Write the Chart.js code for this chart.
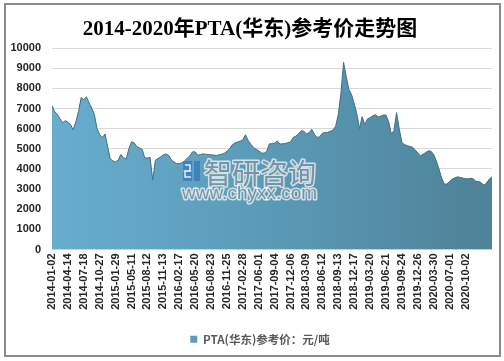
<!DOCTYPE html>
<html>
<head>
<meta charset="utf-8">
<script src="https://cdn.jsdelivr.net/npm/chart.js@4.4.1/dist/chart.umd.min.js"></script>
<style>
  html, body { margin: 0; padding: 0; background: #ffffff; }
  #wrap { position: relative; width: 504px; height: 361px; }
</style>
</head>
<body>
<div id="wrap"><canvas id="c" width="504" height="361"></canvas></div>
<script>
// ---- data ----
const chartTitle = '2014-2020年PTA(华东)参考价走势图';
const seriesName = 'PTA(华东)参考价：元/吨';
const tickLabels = ['2014-01-02','2014-04-14','2014-07-18','2014-10-27','2015-01-29','2015-05-11','2015-08-12','2015-11-13','2016-02-17','2016-05-20','2016-08-23','2016-11-25','2017-02-28','2017-06-01','2017-09-04','2017-12-06','2018-03-09','2018-06-12','2018-09-13','2018-12-17','2019-03-20','2019-06-21','2019-09-24','2019-12-26','2020-03-30','2020-07-01','2020-10-02'];
const pointsPerTick = 6;
const priceValues = [
  7150,6850,6720,6500,6300,6400,6320,6200,5950,6350,6850,7550,7450,7580,7280,7020,6700,6000,5700,5560,
  5740,5100,4500,4400,4350,4450,4720,4550,4500,5000,5350,5300,5100,5050,4980,4550,4540,4580,3450,4430,
  4520,4600,4700,4750,4680,4450,4350,4270,4260,4310,4400,4530,4660,4850,4850,4680,4720,4750,4730,4720,
  4700,4690,4670,4700,4730,4780,4880,5000,5200,5290,5340,5380,5450,5700,5420,5230,5070,4980,4900,4800,
  4780,4880,5250,5250,5280,5390,5240,5250,5270,5300,5350,5570,5630,5750,5900,5870,5750,5800,5970,5720,
  5570,5600,5780,5820,5820,5870,5930,6120,6700,7750,9300,8600,7950,7700,7250,6750,6000,6600,6200,6480,
  6550,6640,6700,6580,6620,6680,6680,6350,5750,5900,6800,6000,5320,5210,5160,5120,5080,4950,4790,4660,
  4730,4820,4900,4880,4720,4400,4000,3550,3250,3250,3380,3500,3560,3610,3580,3550,3520,3510,3540,3500,
  3380,3380,3300,3200,3310,3500,3610
];
const yMin = 0, yMax = 10000, yStep = 1000;

// points on a linear index axis; a date label every `pointsPerTick` points
const points = priceValues.map((v, i) => ({ x: i, y: v }));
const tickValues = tickLabels.map((t, k) => k * pointsPerTick);

const framePlugin = {
  id: 'frame',
  beforeDraw(chart) {
    const ctx = chart.ctx;
    ctx.save();
    ctx.fillStyle = '#ffffff';
    ctx.fillRect(0, 0, chart.width, chart.height);
    ctx.restore();
  },
  afterDraw(chart) {
    const ctx = chart.ctx;
    ctx.save();
    ctx.strokeStyle = '#8c8c8c';
    ctx.lineWidth = 2;
    ctx.strokeRect(5, 4, 495, 352);
    ctx.restore();
  }
};

// the reference legend sits a little right of the canvas centre
const legendShiftPlugin = {
  id: 'legendShift',
  afterLayout(chart) {
    if (chart.legend) { chart.legend.left += 20; }
  }
};

const watermarkPlugin = {
  id: 'watermark',
  afterDatasetsDraw(chart) {
    const ctx = chart.ctx;
    ctx.save();
    // logo
    const lx = 183, ly = 161;
    ctx.fillStyle = 'rgba(52,120,190,0.75)';
    ctx.fillRect(lx, ly, 9, 9);
    ctx.fillRect(lx + 11, ly, 6, 20);
    ctx.fillRect(lx, ly + 11, 9, 9);
    ctx.strokeStyle = 'rgba(255,255,255,0.85)';
    ctx.lineWidth = 1.5;
    ctx.beginPath();
    ctx.moveTo(lx + 2, ly + 4); ctx.lineTo(lx + 7, ly + 4); ctx.lineTo(lx + 7, ly + 10);
    ctx.lineTo(lx + 2, ly + 10); ctx.lineTo(lx + 2, ly + 16); ctx.lineTo(lx + 8, ly + 16);
    ctx.stroke();
    // text
    ctx.lineJoin = 'round';
    ctx.font = '28px "Noto Sans CJK SC"';
    ctx.textBaseline = 'alphabetic';
    ctx.strokeStyle = 'rgba(255,255,255,0.7)';
    ctx.lineWidth = 3;
    ctx.strokeText('智研咨询', 204, 184);
    ctx.fillStyle = 'rgba(75,105,125,0.65)';
    ctx.fillText('智研咨询', 204, 184);
    ctx.font = '19px "Liberation Sans"';
    ctx.strokeText('www.chyxx.com', 182, 199);
    ctx.fillText('www.chyxx.com', 182, 199);
    ctx.restore();
  }
};

function areaGradient(context) {
  const chart = context.chart;
  const a = chart.chartArea;
  if (!a) return '#5b9cb8';
  const g = chart.ctx.createLinearGradient(a.left, 0, a.right, 0);
  g.addColorStop(0, '#68adce');
  g.addColorStop(0.5, '#5a9ab6');
  g.addColorStop(1, '#4e8297');
  return g;
}

new Chart(document.getElementById('c'), {
  type: 'line',
  data: {
    datasets: [{
      label: seriesName,
      data: points,
      fill: 'origin',
      backgroundColor: areaGradient,
      borderColor: '#3f6f84',
      borderWidth: 1,
      pointRadius: 0,
      pointHoverRadius: 0,
      tension: 0
    }]
  },
  options: {
    responsive: false,
    animation: false,
    events: [],
    layout: { padding: { top: 8, left: 8, right: 12, bottom: 6 } },
    plugins: {
      title: {
        display: true,
        text: chartTitle,
        color: '#000000',
        font: { family: '"Liberation Serif", "Noto Sans CJK SC"', size: 21, weight: 'bold' },
        padding: { top: 9, bottom: 6 }
      },
      legend: {
        display: true,
        position: 'bottom',
        labels: {
          boxWidth: 7,
          boxHeight: 7,
          color: '#595959',
          padding: 10,
          font: { family: '"Noto Sans CJK SC", "Liberation Sans"', size: 11.5, weight: 'bold' },
          generateLabels(chart) {
            return [{
              text: seriesName,
              fillStyle: '#5b9cb8',
              strokeStyle: '#5b9cb8',
              lineWidth: 0,
              hidden: false,
              datasetIndex: 0,
              fontColor: '#595959'
            }];
          }
        }
      },
      tooltip: { enabled: false }
    },
    scales: {
      x: {
        type: 'linear',
        min: 0,
        max: priceValues.length - 1,
        grid: { display: false, drawTicks: false },
        border: { display: false },
        afterBuildTicks(scale) {
          scale.ticks = tickValues.map(v => ({ value: v }));
        },
        ticks: {
          autoSkip: false,
          maxRotation: 90,
          minRotation: 90,
          padding: 4,
          color: '#262626',
          font: { family: '"Liberation Sans"', size: 11, weight: 'bold' },
          callback(value) {
            const k = Math.round(value / pointsPerTick);
            return tickLabels[k] || '';
          }
        },
        afterFit(scale) { scale.height = 74; }
      },
      y: {
        min: yMin,
        max: yMax,
        grid: { color: '#d9d9d9', drawTicks: false },
        border: { display: false },
        ticks: {
          stepSize: yStep,
          padding: 11,
          color: '#262626',
          font: { family: '"Liberation Sans"', size: 11, weight: 'bold' },
          callback(value) { return String(value); }
        },
        afterFit(scale) { scale.width = 44; }
      }
    }
  },
  plugins: [framePlugin, legendShiftPlugin, watermarkPlugin]
});
</script>
</body>
</html>
